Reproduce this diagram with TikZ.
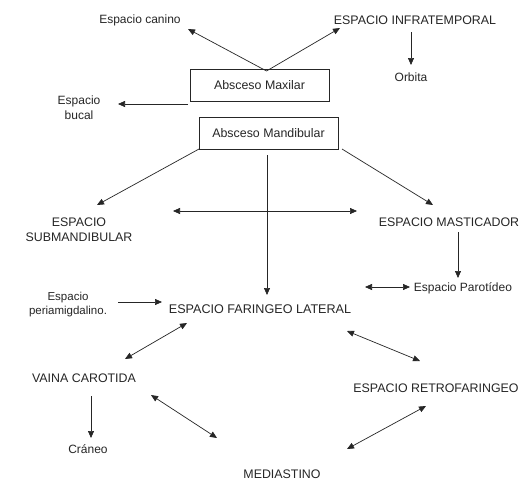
\documentclass[tikz,border=0pt]{standalone}
\usepackage{fontspec}
\setmainfont{Liberation Sans}
\usetikzlibrary{arrows.meta,calc}
\definecolor{ink}{HTML}{262626}
\tikzset{
  lbl/.style={inner sep=0pt, text=ink, align=center, font=\fontsize{12}{15}\selectfont},
  capslbl/.style={inner sep=0pt, text=ink, align=center, font=\fontsize{12.4}{15}\selectfont},
  boxed/.style={draw=ink, line width=0.7pt, minimum width=139pt, minimum height=32pt, inner sep=0pt, text=ink, font=\fontsize{12.4}{15}\selectfont},
  arr/.style={draw=ink, line width=0.7pt, -{Triangle[length=7pt,width=6pt]}},
  darr/.style={draw=ink, line width=0.7pt, {Triangle[length=7pt,width=6pt]}-{Triangle[length=7pt,width=6pt]}}
}
\begin{document}
\begin{tikzpicture}[x=1pt,y=-1pt]
\useasboundingbox[fill=white] (0,0) rectangle (527,480);
% nodes
\node[lbl] (canino) at (140,20) {Espacio canino};
\node[capslbl] (infra) at (415,20) {ESPACIO INFRATEMPORAL};
\node[lbl] (orbita) at (411,77) {Orbita};
\node[boxed] (maxilar) at (259.5,85) {Absceso Maxilar};
\node[lbl] (bucal) at (79,107.5) {Espacio\\bucal};
\node[boxed] (mandib) at (268.5,133) {Absceso Mandibular};
\node[capslbl] (submand) at (79,230) {ESPACIO\\SUBMANDIBULAR};
\node[capslbl] (mast) at (449,222) {ESPACIO MASTICADOR};
\node[lbl] (parot) at (463,288) {Espacio Parotídeo};
\node[lbl, font=\fontsize{11.5}{14}\selectfont] (periam) at (68,305) {Espacio\\periamigdalino.};
\node[capslbl, font=\fontsize{12.6}{15}\selectfont] (faring) at (260,309) {ESPACIO FARINGEO LATERAL};
\node[capslbl] (vaina) at (84,378) {VAINA CAROTIDA};
\node[lbl] (craneo) at (88,449) {Cráneo};
\node[capslbl] (retro) at (436,388) {ESPACIO RETROFARINGEO};
\node[capslbl] (medias) at (282,474) {MEDIASTINO};
% connectors
\draw[arr] ($(maxilar.center)+(7,-14)$) -- ($(canino.center)+(48,9)$);
\draw[arr] ($(maxilar.center)+(7,-14)$) -- ($(infra.center)+(-75,8)$);
\draw[arr] ($(infra.center)+(-4,12)$) -- ($(orbita.center)+(0,-12)$);
\draw[arr] ($(maxilar.center)+(-71.5,19)$) -- ($(bucal.center)+(39,-3.5)$);
\draw[arr] ($(mandib.center)+(-69.5,16)$) -- ($(submand.center)+(18,-25)$);
\draw[arr] ($(mandib.center)+(-1.5,22)$) -- ($(faring.center)+(7,-14)$);
\draw[arr] ($(mandib.center)+(73.5,16)$) -- ($(mast.center)+(-16,-17)$);
\draw[darr] ($(submand.center)+(94,-19)$) -- ($(mast.center)+(-92,-11)$);
\draw[arr] ($(mast.center)+(9,10)$) -- ($(parot.center)+(-5,-10)$);
\draw[darr] ($(faring.center)+(105,-22)$) -- ($(parot.center)+(-53,-1)$);
\draw[arr] ($(periam.center)+(50,-3)$) -- ($(faring.center)+(-98,-7)$);
\draw[darr] ($(faring.center)+(-73,14)$) -- ($(vaina.center)+(41,-19)$);
\draw[darr] ($(faring.center)+(87,22)$) -- ($(retro.center)+(-16,-27)$);
\draw[arr] ($(vaina.center)+(7,18)$) -- ($(craneo.center)+(3,-11)$);
\draw[darr] ($(vaina.center)+(67,17)$) -- ($(medias.center)+(-65,-36)$);
\draw[darr] ($(retro.center)+(-10,18)$) -- ($(medias.center)+(65,-25)$);
\end{tikzpicture}
\end{document}
